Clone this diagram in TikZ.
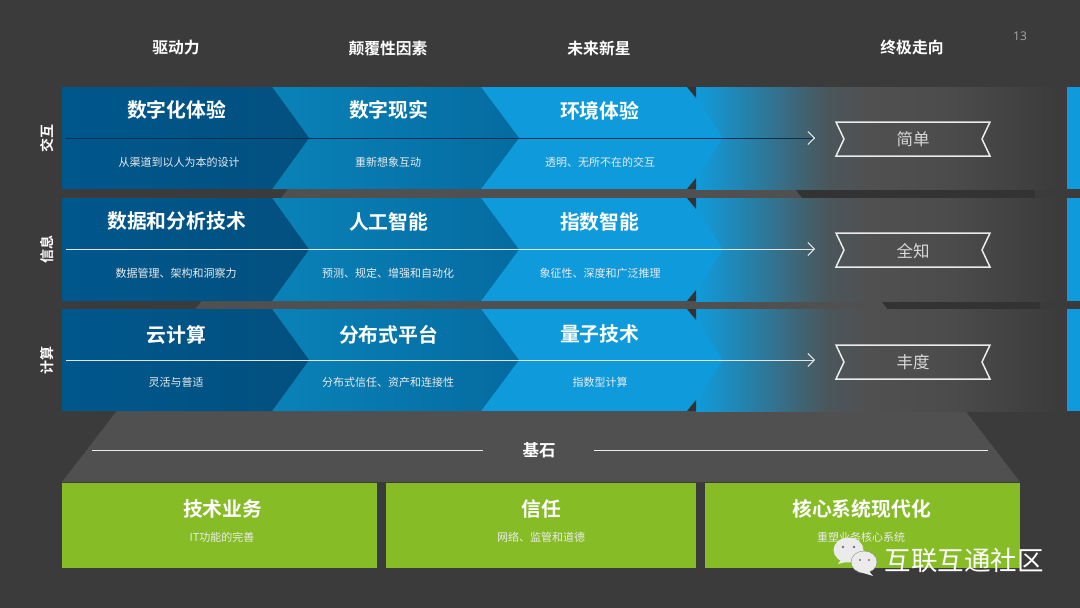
\documentclass[tikz,border=0pt]{standalone}
\usepackage{fontspec}
\setmainfont{Noto Sans CJK SC}
\newfontfamily\boldcjk{Noto Sans CJK SC Bold}
\newfontfamily\latinlight{Open Sans}
\usetikzlibrary{arrows.meta,calc}
\definecolor{bgc}{HTML}{3B3B3B}
\definecolor{pyr}{HTML}{505050}
\definecolor{bluea}{HTML}{00578C}
\definecolor{blueaa}{HTML}{02507F}
\definecolor{blueb}{HTML}{0982B8}
\definecolor{bluebb}{HTML}{056BA0}
\definecolor{bluec}{HTML}{0F9BDB}
\definecolor{grn}{HTML}{86BC25}
\definecolor{darkline}{HTML}{0A2E50}
\definecolor{shadowc}{HTML}{333333}
\tikzset{
  x=1pt,y=-1pt,
  headtxt/.style={font=\boldcjk\fontsize{15.8}{15.8}\selectfont,text=white,inner sep=0pt},
  sidetxt/.style={font=\boldcjk\fontsize{14}{14}\selectfont,text=white,inner sep=0pt,rotate=90},
  bigtxt/.style={font=\boldcjk\fontsize{19.8}{19.8}\selectfont,text=white,inner sep=0pt,xshift=0.6pt},
  smalltxt/.style={font=\fontsize{11}{11}\selectfont,text=white!92!black,inner sep=0pt},
  ribbon/.style={draw=white!92!black,line width=1.5pt,fill=none},
  ribtxt/.style={font=\fontsize{16.5}{16.5}\selectfont,text=white!85!black,inner sep=0pt},
  rowline/.style={line width=1pt},
  rowtip/.style={line width=1pt,-{Straight Barb[length=6.5pt,width=13pt,line width=1pt]}},
}
\pgfdeclarehorizontalshading{fadeout}{100bp}{
  color(0bp)=(bluec); color(25bp)=(bluec); color(30bp)=(bluec!76!pyr); color(35bp)=(bluec!50!pyr);
  color(39.5bp)=(bluec!25!pyr); color(43bp)=(bluec!8!pyr); color(49bp)=(pyr);
  color(59.5bp)=(pyr!80!bgc); color(73bp)=(pyr!10!bgc); color(75bp)=(bgc); color(100bp)=(bgc)}
\pgfdeclarehorizontalshading{chevb}{100bp}{
  color(0bp)=(blueb); color(25bp)=(blueb); color(75bp)=(bluebb); color(100bp)=(bluebb)}
\pgfdeclarehorizontalshading{cheva}{100bp}{
  color(0bp)=(bluea); color(25bp)=(bluea); color(75bp)=(blueaa); color(100bp)=(blueaa)}
\newcommand{\rowband}[2]{%
  \pgfmathsetmacro{\midy}{(#1+#2)/2}
  \fill[bluec] (481,#1) -- (696,#1) -- (696,#2) -- (481,#2) -- cycle;
  \shade[shading=fadeout,shading angle=0] (696,#1) rectangle (1060,#2);
  \fill[bluec] (696,#1+10) -- (723,\midy) -- (696,#2-10) -- cycle;
  \fill[shadowc] (687,#1) -- (696,#1) -- (696,#1+11) -- cycle;
  \fill[shadowc] (687,#2) -- (696,#2) -- (696,#2-11) -- cycle;
  \shade[shading=chevb,shading angle=0] (272,#1) -- (481,#1) -- (519,\midy) -- (481,#2) -- (272,#2) -- (309,\midy) -- cycle;
  \shade[shading=cheva,shading angle=0] (62,#1) -- (272,#1) -- (309,\midy) -- (272,#2) -- (62,#2) -- cycle;
  \fill[bluec] (1067,#1) rectangle (1080,#2);
}
\begin{document}
\begin{tikzpicture}
\useasboundingbox (0,0) rectangle (1080,608);
\fill[bgc] (0,0) rectangle (1080,608);
% gap shadows to the right of the pyramid
\fill[shadowc] (790,189) rectangle (1035,198);
\fill[shadowc] (878,301) rectangle (1040,309);
% pyramid
\fill[pyr] (62,482) -- (288,189) -- (795,189) -- (1020,482) -- cycle;
% bands
\rowband{87}{189}
\rowband{198}{301}
\rowband{309}{411}
% column heads
\node[headtxt] (h1) at (176,48) {驱动力};
\node[headtxt] (h2) at (388,48) {颠覆性因素};
\node[headtxt] (h3) at (599,48) {未来新星};
\node[headtxt] (h4) at (912,47) {终极走向};
\node[font=\latinlight\fontsize{12}{12}\selectfont,text=white!65!black,inner sep=0pt] (pg) at (1020,36) {13};
% side labels
\node[sidetxt] (s1) at (47,138) {交互};
\node[sidetxt] (s2) at (47,249) {信息};
\node[sidetxt] (s3) at (47,360) {计算};
% row 1
\node[bigtxt] (a1) at (176,110) {数字化体验};
\node[bigtxt] (a2) at (388,110) {数字现实};
\node[bigtxt] (a3) at (599,111) {环境体验};
\node[smalltxt] (b1) at (179,162) {从渠道到以人为本的设计};
\node[smalltxt] (b2) at (388,162) {重新想象互动};
\node[smalltxt] (b3) at (600,162) {透明、无所不在的交互};
% row 2
\node[bigtxt] (c1) at (176,221) {数据和分析技术};
\node[bigtxt] (c2) at (388,222) {人工智能};
\node[bigtxt] (c3) at (599,222) {指数智能};
\node[smalltxt] (d1) at (176,273) {数据管理、架构和洞察力};
\node[smalltxt] (d2) at (388,273) {预测、规定、增强和自动化};
\node[smalltxt] (d3) at (600,273) {象征性、深度和广泛推理};
% row 3
\node[bigtxt] (e1) at (176,335) {云计算};
\node[bigtxt] (e2) at (388,335) {分布式平台};
\node[bigtxt] (e3) at (599,334) {量子技术};
\node[smalltxt] (f1) at (176,382) {灵活与普适};
\node[smalltxt] (f2) at (388,382) {分布式信任、资产和连接性};
\node[smalltxt] (f3) at (600,382) {指数型计算};
% arrows
\coordinate (l1) at (66,138); \coordinate (t1) at (815,138);
\coordinate (l2) at (66,249); \coordinate (t2) at (815,249);
\coordinate (l3) at (66,360); \coordinate (t3) at (815,360);
\draw[rowline,draw=darkline] (l1) -- ($(t1)+(-2,0)$);
\draw[rowtip,draw=white!90!black] ($(t1)+(-1,0)$) -- (t1);
\draw[rowtip,draw=white!90!black] (l2) -- (t2);
\draw[rowtip,draw=white!90!black] (l3) -- (t3);
% ribbons
\draw[ribbon] (836,122) -- (990,122) -- (982,139) -- (990,156) -- (836,156) -- (844,139) -- cycle;
\draw[ribbon] (836,233) -- (990,233) -- (982,250) -- (990,267) -- (836,267) -- (844,250) -- cycle;
\draw[ribbon] (836,345) -- (990,345) -- (982,362) -- (990,379) -- (836,379) -- (844,362) -- cycle;
\node[ribtxt] (r1) at (913,139) {简单};
\node[ribtxt] (r2) at (913,251) {全知};
\node[ribtxt] (r3) at (913,362) {丰度};
% foundation
\node[font=\boldcjk\fontsize{16.5}{16.5}\selectfont,text=white,inner sep=0pt] (base) at (539,450) {基石};
\coordinate (bl) at (92,450); \coordinate (br) at (988,450);
\coordinate (bm1) at (483,450); \coordinate (bm2) at (594,450);
\draw[line width=1pt,white!92!black] (bl) -- (bm1);
\draw[line width=1pt,white!92!black] (bm2) -- (br);
\fill[grn] (62,483) rectangle (377,568);
\fill[grn] (386,483) rectangle (696,568);
\fill[grn] (705,483) rectangle (1020,568);
\node[bigtxt] (g1) at (222,509) {技术业务};
\node[bigtxt] (g2) at (541,509) {信任};
\node[bigtxt] (g3) at (861,509) {核心系统现代化};
\node[smalltxt] (k1) at (222,537) {IT功能的完善};
\node[smalltxt] (k2) at (541,537) {网络、监管和道德};
\node[smalltxt] (k3) at (861,537) {重塑业务核心系统};
% watermark
\fill[white!92!black] (848.5,550) ellipse (15 and 12.5);
\fill[white!92!black] (842,558) -- (838,564) -- (850,561) -- cycle;
\fill[white!92!black,draw=black!45,line width=.4pt] (864,562) ellipse (13 and 11);
\fill[white!92!black] (868,570) -- (873,576) -- (860,572) -- cycle;
\fill[black!55] (843,547) circle (1.4) (854,547) circle (1.4) (860,560) circle (1.2) (869,560) circle (1.2);
\node[font=\fontsize{26.5}{26.5}\selectfont,text=white,inner sep=0pt] (wm) at (964,560) {互联互通社区};
\end{tikzpicture}
\end{document}
